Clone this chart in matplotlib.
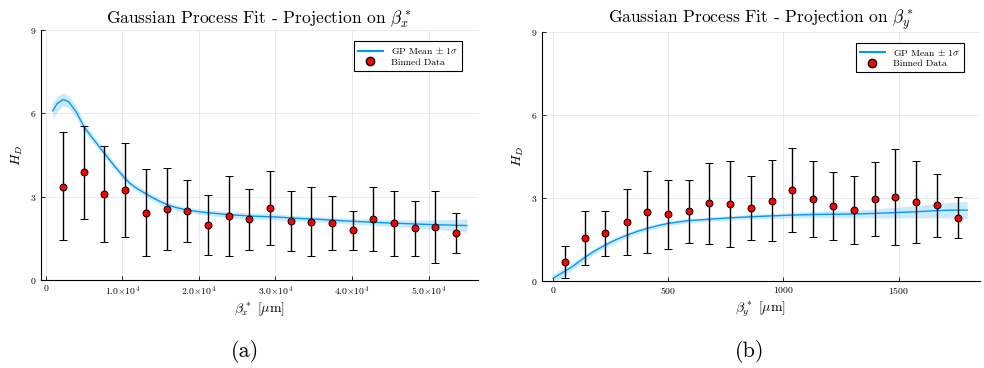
import matplotlib
matplotlib.use("Agg")
import matplotlib.pyplot as plt
from matplotlib.lines import Line2D
import numpy as np

plt.rcParams['font.family'] = 'serif'
plt.rcParams['font.serif'] = ['cmr10']
plt.rcParams['mathtext.fontset'] = 'cm'
plt.rcParams['axes.unicode_minus'] = False
plt.rcParams['axes.formatter.use_mathtext'] = True

# ---- panel (a): projection on beta_x ----
bx_bins = [2300, 5000, 7650, 10400, 13100, 15800, 18500, 21200, 23900, 26600,
           29300, 32000, 34700, 37400, 40100, 42800, 45500, 48200, 50900, 53600]
hx_mean = [3.36, 3.88, 3.10, 3.24, 2.42, 2.56, 2.47, 1.97, 2.29, 2.18,
           2.59, 2.11, 2.10, 2.06, 1.79, 2.20, 2.04, 1.86, 1.90, 1.69]
hx_top = [5.32, 5.56, 4.82, 4.94, 3.98, 4.04, 3.59, 3.05, 3.75, 3.26,
          3.91, 3.20, 3.36, 3.02, 2.49, 3.34, 3.20, 2.86, 3.19, 2.42]
hx_bot = [1.44, 2.20, 1.37, 1.54, 0.88, 1.08, 1.37, 0.91, 0.85, 1.09,
          1.27, 1.03, 0.86, 1.08, 1.09, 1.06, 0.88, 0.85, 0.60, 0.98]

gx_x = [930, 1500, 2300, 3000, 4000, 5000, 6000, 7000, 8000, 9000, 10000,
        11000, 12000, 13000, 14000, 15000, 16000, 17000, 18500, 20000, 21200,
        24000, 27000, 30000, 33000, 36000, 39000, 42000, 45000, 48000, 51000, 55000]
gx_mean = [6.09, 6.35, 6.50, 6.42, 6.05, 5.52, 5.15, 4.80, 4.45, 4.10, 3.77,
           3.48, 3.28, 3.12, 2.96, 2.82, 2.70, 2.61, 2.52, 2.46, 2.42,
           2.35, 2.30, 2.27, 2.22, 2.18, 2.13, 2.09, 2.05, 2.02, 1.99, 1.96]
gx_sd = [0.30, 0.27, 0.24, 0.22, 0.20, 0.17, 0.15, 0.14, 0.13, 0.12, 0.12,
         0.11, 0.11, 0.11, 0.11, 0.10, 0.10, 0.10, 0.10, 0.10, 0.10,
         0.11, 0.11, 0.11, 0.10, 0.10, 0.10, 0.11, 0.12, 0.14, 0.17, 0.24]

# ---- panel (b): projection on beta_y ----
by_bins = [52, 139, 227, 319, 410, 500, 589, 679, 768, 859,
           949, 1038, 1128, 1216, 1308, 1397, 1486, 1576, 1665, 1758]
hy_mean = [0.70, 1.56, 1.72, 2.13, 2.49, 2.41, 2.52, 2.80, 2.79, 2.64,
           2.90, 3.27, 2.96, 2.72, 2.56, 2.95, 3.02, 2.85, 2.74, 2.28]
hy_top = [1.27, 2.53, 2.52, 3.31, 3.98, 3.65, 3.66, 4.27, 4.35, 3.79,
          4.37, 4.81, 4.34, 3.95, 3.78, 4.28, 4.75, 4.35, 3.87, 3.04]
hy_bot = [0.10, 0.59, 0.91, 0.95, 1.01, 1.17, 1.38, 1.35, 1.22, 1.49,
          1.43, 1.77, 1.59, 1.48, 1.34, 1.61, 1.29, 1.36, 1.60, 1.54]

gy_x = [0, 45, 87, 139, 180, 227, 270, 319, 365, 410, 455, 500, 589, 679,
        768, 859, 949, 1038, 1128, 1216, 1308, 1397, 1486, 1576, 1665, 1740, 1798]
gy_mean = [0.10, 0.32, 0.54, 0.86, 1.08, 1.30, 1.48, 1.65, 1.79, 1.90, 2.00,
           2.08, 2.18, 2.23, 2.28, 2.32, 2.35, 2.38, 2.40, 2.41, 2.42, 2.44,
           2.47, 2.50, 2.54, 2.56, 2.56]
gy_sd = [0.16, 0.14, 0.13, 0.12, 0.11, 0.10, 0.10, 0.09, 0.09, 0.09, 0.08,
         0.08, 0.08, 0.08, 0.08, 0.08, 0.09, 0.10, 0.11, 0.12, 0.14, 0.16,
         0.19, 0.22, 0.26, 0.29, 0.31]

gp_color = '#009afa'

fig = plt.figure(figsize=(9.84, 3.68), dpi=100)
ax_a = fig.add_axes([0.0417, 0.2391, 0.444, 0.6794])
ax_b = fig.add_axes([0.5508, 0.2364, 0.445, 0.6775])

panels = [
    (ax_a, bx_bins, hx_mean, hx_top, hx_bot, gx_x, gx_mean, gx_sd, 'x', (-600, 56450)),
    (ax_b, by_bins, hy_mean, hy_top, hy_bot, gy_x, gy_mean, gy_sd, 'y', (-48, 1853)),
]

for ax, bx, hm, ht, hb, gx, gm, gs, comp, xl in panels:
    bx = np.array(bx); hm = np.array(hm); ht = np.array(ht); hb = np.array(hb)
    gx = np.array(gx); gm = np.array(gm); gs = np.array(gs)
    ax.fill_between(gx, gm - gs, gm + gs, color=gp_color, alpha=0.2, lw=0, zorder=2)
    ax.plot(gx, gm, color=gp_color, lw=1.0, zorder=3)
    ax.errorbar(bx, hm, yerr=[hm - hb, ht - hm], fmt='o', mfc='red', mec='black',
                mew=0.7, ms=5, ecolor='black', elinewidth=1.0, capsize=3,
                capthick=1.0, zorder=4)
    ax.set_xlim(*xl)
    ax.set_ylim(0, 9)
    ax.set_yticks([0, 3, 6, 9])
    ax.grid(True, color='#e6e6e6', lw=0.6)
    ax.set_axisbelow(True)
    for s in ['top', 'right']:
        ax.spines[s].set_visible(False)
    ax.tick_params(direction='in', length=3, labelsize=7, width=0.6, pad=3)
    ax.set_ylabel(r'$H_D$', fontsize=10)
    ax.set_xlabel(r'$\beta^*_%s$ [$\mu$m]' % comp, fontsize=10, labelpad=2)
    ax.set_title(r'Gaussian Process Fit - Projection on $\beta^*_%s$' % comp,
                 fontsize=12.5, pad=3)
    handles = [Line2D([], [], color=gp_color, lw=1.5),
               Line2D([], [], ls='none', marker='o', mfc='red', mec='black', ms=6)]
    leg = ax.legend(handles, [r'GP Mean $\pm$ 1$\sigma$', 'Binned Data'],
                    loc='upper right', fontsize=7, frameon=True, fancybox=False,
                    framealpha=1, edgecolor='black', borderpad=0.4,
                    handlelength=2.6, labelspacing=0.2, bbox_to_anchor=(0.975, 0.975))
    leg.get_frame().set_linewidth(0.8)

ax_a.set_xticks([0, 10000, 20000, 30000, 40000, 50000])
ax_a.set_xticklabels(['0', r'$1.0{\times}10^{4}$', r'$2.0{\times}10^{4}$',
                      r'$3.0{\times}10^{4}$', r'$4.0{\times}10^{4}$',
                      r'$5.0{\times}10^{4}$'])
ax_b.set_xticks([0, 500, 1000, 1500])

fig.text(0.249, 0.03, '(a)', fontsize=16, ha='center')
fig.text(0.762, 0.03, '(b)', fontsize=16, ha='center')

fig.savefig('out.png', dpi=100)
